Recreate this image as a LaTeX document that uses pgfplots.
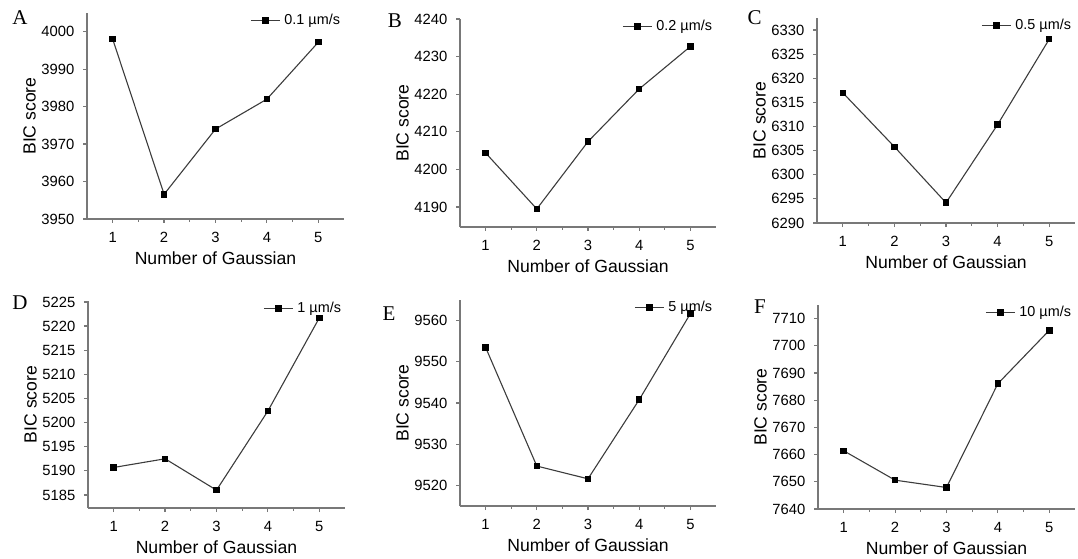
\documentclass[border=0pt]{standalone}
\usepackage{fontspec}
\setmainfont{Liberation Sans}
\newfontfamily\serifletter{Liberation Serif}
\usepackage{pgfplots}
\pgfplotsset{compat=1.18}
\definecolor{axgray}{RGB}{120,120,120}
\definecolor{lngray}{RGB}{60,60,60}
\pgfplotsset{
  ser/.style={lngray, line width=0.55pt,
      mark=square*, mark size=1.35pt,
      mark options={black, fill=black, solid}},
  panel/.style={
    scale only axis, anchor=south west,
    axis x line*=bottom, axis y line*=left,
    axis line style={-, axgray, line width=0.75pt},
    every tick/.style={axgray, line width=0.6pt},
    tick align=outside, major tick length=2pt, minor tick length=1.3pt,
    xmin=0.5, xmax=5.5, xtick={1,2,3,4,5}, minor x tick num=1,
    scaled ticks=false,
    /pgf/number format/1000 sep={},
    /pgf/number format/assume math mode=true,
    tick label style={font=\fontsize{7.4}{8}\selectfont, black},
    yticklabel style={xshift=-0.8pt},
    xticklabel style={yshift=-1pt},
    label style={font=\fontsize{8.8}{10}\selectfont},
    xlabel={Number of Gaussian},
    ylabel={BIC score},
    xlabel style={yshift=2.5pt},
    ylabel style={yshift=-4pt},
    legend style={at={(1,1)}, anchor=north east, draw=none, fill=none,
      inner sep=0pt, outer sep=0pt, font=\fontsize{7.2}{8}\selectfont,
      yshift=1.5pt},
    legend image code/.code={\draw[mark repeat=2,mark phase=2]
      plot coordinates {(0pt,0pt) (7.25pt,0pt) (14.5pt,0pt)};},
  }
}
\begin{document}
\begin{tikzpicture}
\path[use as bounding box] (0pt,0pt) rectangle (539pt,279pt);
% A
\begin{axis}[panel, at={(43.5pt,169.5pt)}, width=128.5pt, height=103pt,
  ymin=3950, ymax=4005, ytick={3950,3960,...,4000}]
\addplot[ser] coordinates {(1,3998) (2,3956.6) (3,3974) (4,3982) (5,3997.2)};
\addlegendentry{0.1 µm/s}
\end{axis}
% B
\begin{axis}[panel, at={(230pt,165.5pt)}, width=128pt, height=104pt,
  ymin=4184.7, ymax=4240, ytick={4190,4200,...,4240}]
\addplot[ser] coordinates {(1,4204.4) (2,4189.5) (3,4207.4) (4,4221.4) (5,4232.7)};
\addlegendentry{0.2 µm/s}
\end{axis}
% C
\begin{axis}[panel, at={(408.5pt,167.5pt)}, width=129pt, height=102.5pt,
  ymin=6290, ymax=6332.5, ytick={6290,6295,...,6330}]
\addplot[ser] coordinates {(1,6317) (2,6305.8) (3,6294.2) (4,6310.4) (5,6328.1)};
\addlegendentry{0.5 µm/s}
\end{axis}
% D
\begin{axis}[panel, at={(44pt,25pt)}, width=128.5pt, height=103.5pt,
  ymin=5182.3, ymax=5225.2, ytick={5185,5190,...,5225}]
\addplot[ser] coordinates {(1,5190.7) (2,5192.5) (3,5186.0) (4,5202.4) (5,5221.7)};
\addlegendentry{1 µm/s}
\end{axis}
% E
\begin{axis}[panel, at={(230pt,26pt)}, width=128pt, height=103pt,
  ymin=9515, ymax=9565, ytick={9520,9530,...,9560}]
\addplot[ser] coordinates {(1,9553.5) (2,9524.7) (3,9521.6) (4,9540.8) (5,9561.7)};
\addlegendentry{5 µm/s}
\end{axis}
% F
\begin{axis}[panel, at={(409pt,24.5pt)}, width=128.5pt, height=102pt,
  ymin=7640, ymax=7715, ytick={7640,7650,...,7710}]
\addplot[ser] coordinates {(1,7661.4) (2,7650.6) (3,7647.9) (4,7686.1) (5,7705.7)};
\addlegendentry{10 µm/s}
\end{axis}
% panel letters
\begin{scope}[font=\serifletter\fontsize{10.5}{12}\selectfont]
\node at (10pt,270pt) {A};
\node at (197.5pt,268.75pt) {B};
\node at (377.25pt,270.25pt) {C};
\node at (10pt,127.5pt) {D};
\node at (194.5pt,122pt) {E};
\node at (380pt,125.5pt) {F};
\end{scope}
\end{tikzpicture}
\end{document}
